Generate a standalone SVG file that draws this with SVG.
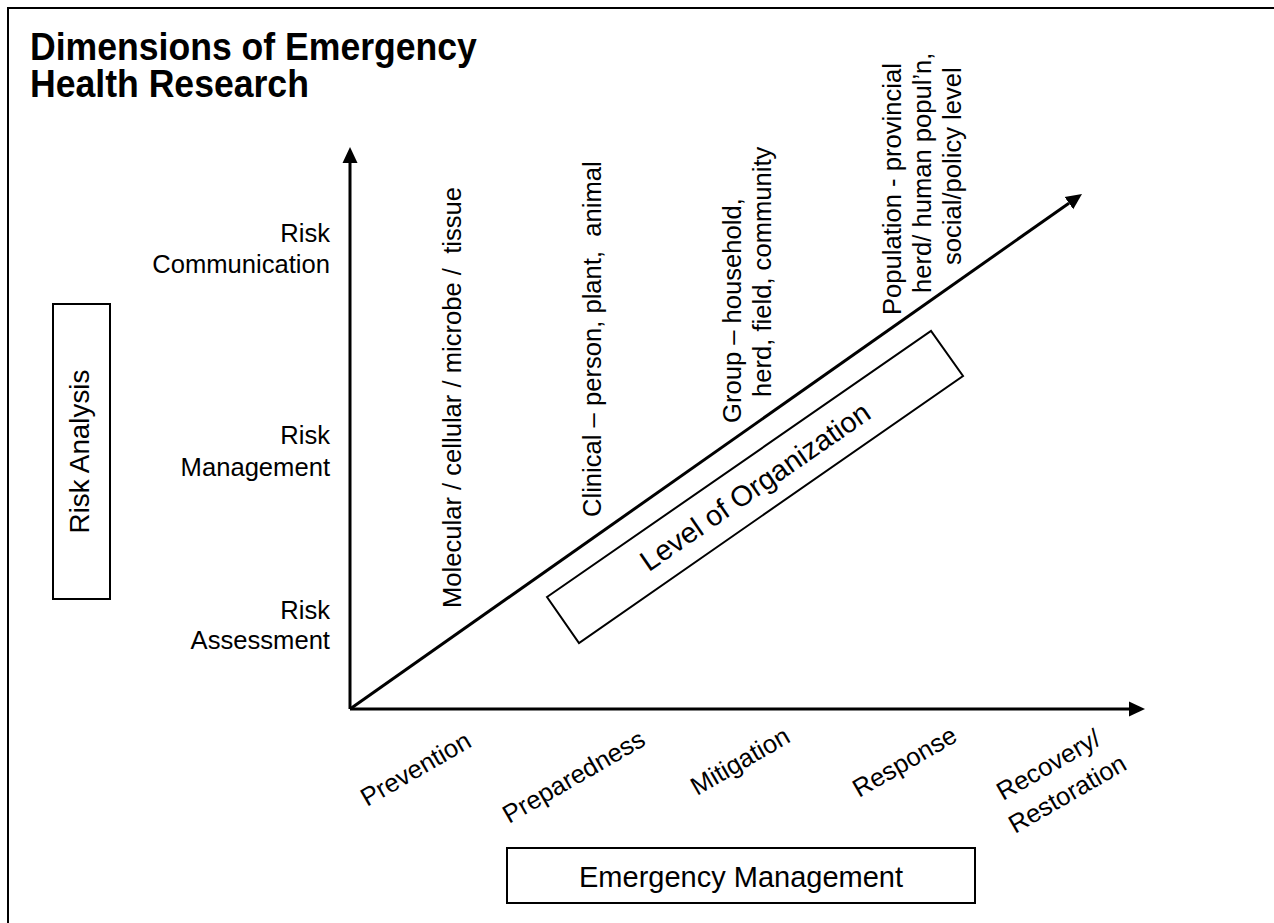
<svg xmlns="http://www.w3.org/2000/svg" width="1274" height="923" viewBox="0 0 1274 923">
<style>
text{font-family:"Liberation Sans",Arial,sans-serif;fill:#000;white-space:pre}
.t{font-size:25.6px}
.title{font-size:35.6px;font-weight:bold}
.box{fill:#fff;stroke:#000;stroke-width:2}
.axis{fill:none;stroke:#000;stroke-width:3}
</style>
<defs>
<marker id="ah" markerUnits="userSpaceOnUse" markerWidth="17" markerHeight="17" viewBox="0 -8.5 17 17" refX="0" refY="0" orient="auto">
<path d="M0,-7.5 L16,0 L0,7.5 Z" fill="#000"/>
</marker>
</defs>
<rect width="1274" height="923" fill="#fff"/>
<path d="M8,923 V8 H1274" fill="none" stroke="#000" stroke-width="2"/>
<g id="title">
<text class="title" transform="translate(30,60) scale(1,1.1)">Dimensions of Emergency</text>
<text class="title" transform="translate(30,97) scale(1,1.1)">Health Research</text>
</g>
<g id="connectors">
<line class="axis" x1="350" y1="709" x2="350" y2="163" marker-end="url(#ah)"/>
<line class="axis" x1="350" y1="709" x2="1129" y2="709" marker-end="url(#ah)"/>
<line class="axis" x1="350" y1="709" x2="1068.9" y2="203.2" marker-end="url(#ah)"/>
</g>
<g id="risk-communication" text-anchor="end">
<text class="t" x="330" y="242">Risk</text>
<text class="t" x="330" y="273">Communication</text>
</g>
<g id="risk-management" text-anchor="end">
<text class="t" x="330" y="444">Risk</text>
<text class="t" x="330" y="476">Management</text>
</g>
<g id="risk-assessment" text-anchor="end">
<text class="t" x="330" y="619">Risk</text>
<text class="t" x="330" y="649">Assessment</text>
</g>
<g id="risk-analysis">
<rect class="box" x="53" y="304" width="57" height="295"/>
<text transform="translate(89,451.5) rotate(-90)" text-anchor="middle" style="font-size:27.8px">Risk Analysis</text>
</g>
<g id="level-molecular">
<text class="t" transform="translate(461,608) rotate(-90)">Molecular / cellular / microbe /  tissue</text>
</g>
<g id="level-clinical">
<text class="t" transform="translate(601,517) rotate(-90)">Clinical – person, plant,  animal</text>
</g>
<g id="level-group">
<text class="t" transform="translate(741,423) rotate(-90)">Group – household,</text>
<text class="t" transform="translate(771,397) rotate(-90)">herd, field, community</text>
</g>
<g id="level-population">
<text class="t" transform="translate(901,315) rotate(-90)">Population - provincial</text>
<text class="t" transform="translate(931,293) rotate(-90)">herd/ human popul’n,</text>
<text class="t" transform="translate(961,265) rotate(-90)">social/policy level</text>
</g>
<g id="level-of-organization">
<polygon class="box" points="547,597 931,331 963,376 579,643"/>
<text transform="translate(755,486.5) rotate(-34.7)" x="0" y="10" text-anchor="middle" style="font-size:28.8px">Level of Organization</text>
</g>
<g id="phases">
<text class="t" transform="translate(367,807) rotate(-30)">Prevention</text>
<text class="t" transform="translate(509,824) rotate(-30)">Preparedness</text>
<text class="t" transform="translate(697,796) rotate(-30)">Mitigation</text>
<text class="t" transform="translate(859,798) rotate(-30)">Response</text>
<text class="t" transform="translate(1003,801) rotate(-30)">Recovery/</text>
<text class="t" transform="translate(1015,834) rotate(-30)">Restoration</text>
</g>
<g id="emergency-management">
<rect class="box" x="507" y="848" width="468" height="55"/>
<text x="741" y="887" text-anchor="middle" style="font-size:29px">Emergency Management</text>
</g>
</svg>
